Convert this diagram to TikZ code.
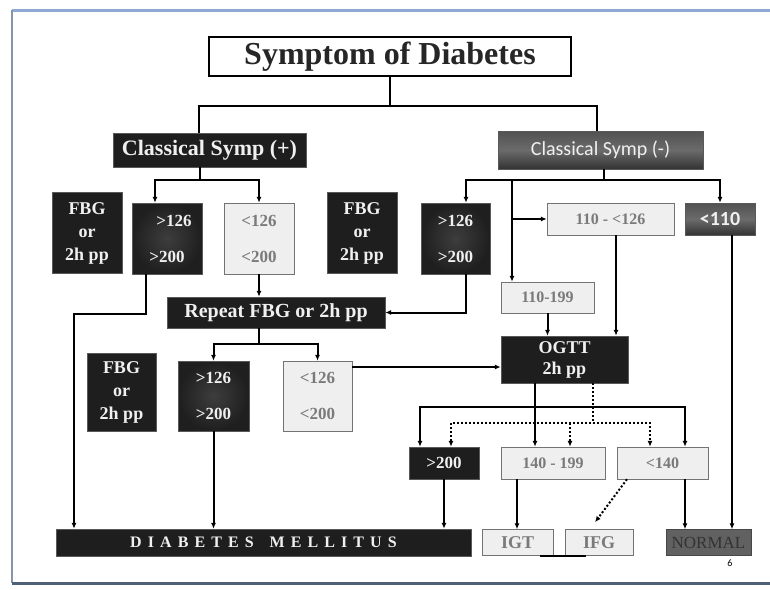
\documentclass[tikz,border=0pt]{standalone}
\usepackage{fontspec}
\setmainfont{Liberation Serif}
\newfontfamily\calibri{Carlito}
\usetikzlibrary{arrows.meta}

\definecolor{framebl}{HTML}{8DA9D4}
\definecolor{frameside}{HTML}{8795A8}
\definecolor{framedk}{HTML}{4D6277}
\definecolor{boxdark}{HTML}{1E1E1E}
\definecolor{boxlight}{HTML}{EFEFEF}
\definecolor{txtgray}{HTML}{7A7A7A}

\newcommand\fsz[2]{\fontsize{#1}{#2}\selectfont}

\tikzset{
	darkbox/.style={draw=black!65, fill=boxdark, text=white!94!black, align=center, inner sep=0pt},
	hibox/.style={darkbox, inner color=black!76, outer color=black!88},
	greybox/.style={darkbox, top color=black!68, bottom color=black!80, middle color=black!58},
	lightbox/.style={draw=black!55, fill=boxlight, text=txtgray, align=center, inner sep=0pt},
	link/.style={line width=2pt, -{Latex[length=6pt,width=5pt]}},
	dotlink/.style={link, dotted, line width=2pt}
}

\begin{document}
\begin{tikzpicture}[x=1pt,y=-1pt]
	\useasboundingbox (0,0) rectangle (770,589);
	% slide frame
	\fill[white] (0,0) rectangle (770,589);
	\draw[framebl, line width=3pt] (12,10) -- (770,10);
	\draw[frameside, line width=1.2pt] (12,10) -- (12,583);
	\draw[framedk, line width=3pt] (12,583) -- (770,583);

	% boxes
	\node[draw=black, line width=1.2pt, fill=white, text=black!85, minimum width=362, minimum height=39, font=\bfseries\fsz{32}{36}] (title) at (390,56.5) {Symptom of Diabetes};
	\node[darkbox, minimum width=193, minimum height=34, font=\bfseries\fsz{22}{24}] (csp) at (209.5,150) {Classical Symp (+)};
	\node[greybox, minimum width=205, minimum height=38, font=\calibri\fsz{20}{22}] (csm) at (600.5,150) {Classical Symp (-)};

	\node[darkbox, minimum width=70, minimum height=81, font=\bfseries\fsz{18}{23}] (fbgA) at (87,233) {FBG\\or\\2h pp};
	\node[hibox, minimum width=70, minimum height=71, font=\bfseries\fsz{17}{36}] (hiA) at (167,238.5) {\hspace*{14pt}>126\\>200};
	\node[lightbox, minimum width=70, minimum height=71, font=\bfseries\fsz{17}{36}] (loA) at (259,238.5) {<126\\<200};
	\node[darkbox, minimum width=70, minimum height=81, font=\bfseries\fsz{18}{23}] (fbgB) at (362,233) {FBG\\or\\2h pp};
	\node[hibox, minimum width=69, minimum height=71, font=\bfseries\fsz{17}{36}] (hiB) at (455.5,238.5) {>126\\>200};
	\node[lightbox, minimum width=127, minimum height=32, font=\bfseries\fsz{16}{18}] (l126) at (610.5,219) {110 - <126};
	\node[greybox, minimum width=70, minimum height=32, font=\calibri\bfseries\fsz{20}{22}] (l110) at (720,219) {<110};

	\node[darkbox, minimum width=218, minimum height=31, font=\bfseries\fsz{20}{22}] (repeat) at (276,312.5) {Repeat FBG or 2h pp};
	\node[lightbox, minimum width=93, minimum height=31, font=\bfseries\fsz{16}{18}] (r199) at (547.5,297.5) {110-199};

	\node[darkbox, minimum width=69, minimum height=78, font=\bfseries\fsz{18}{23}] (fbgC) at (121.5,392) {FBG\\or\\2h pp};
	\node[hibox, minimum width=71, minimum height=70, font=\bfseries\fsz{17}{36}] (hiC) at (213.5,396) {>126\\>200};
	\node[lightbox, minimum width=69, minimum height=70, font=\bfseries\fsz{17}{36}] (loC) at (317.5,396) {<126\\<200};
	\node[darkbox, minimum width=127, minimum height=47, font=\bfseries\fsz{18}{21}] (ogtt) at (564.5,359.5) {OGTT\\2h pp};

	\node[darkbox, minimum width=70, minimum height=32, font=\bfseries\fsz{17}{18}] (h200) at (444,463) {>200};
	\node[lightbox, minimum width=104, minimum height=32, font=\bfseries\fsz{16}{18}] (m140) at (553,463) {140 - 199};
	\node[lightbox, minimum width=91, minimum height=32, font=\bfseries\fsz{16}{18}] (l140) at (662.5,463) {<140};

	\node[darkbox, minimum width=415, minimum height=27, font=\bfseries\fsz{16}{18}] (dm) at (263.5,542.5) {\addfontfeature{LetterSpace=38}DIABETES\quad MELLITUS};
	\node[lightbox, minimum width=71, minimum height=26, font=\bfseries\fsz{18}{20}] (igt) at (517.5,542.5) {IGT};
	\node[lightbox, minimum width=68, minimum height=26, font=\bfseries\fsz{18}{20}] (ifg) at (599,542.5) {IFG};
	\node[darkbox, draw=black!72, fill=black!62, text=black!80, minimum width=85, minimum height=26, font=\fsz{17}{19}] (normal) at (708.5,542.5) {NORMAL};
	\node[font=\calibri\fsz{10}{12}] (pg) at (730,563) {6};

	% top levels
	\draw[line width=2pt] (title.south) -- ++(0,29) coordinate (tj);
	\draw[line width=2pt] (tj) -| ([xshift=-10.5pt]csp.north);
	\draw[line width=2pt] (tj) -| ([xshift=-3.5pt]csm.north);

	% symptoms positive
	\draw[line width=2pt] ([xshift=-9.5pt]csp.south) -- ++(0,13) coordinate (cj);
	\draw[link] (cj) -| ([xshift=-12pt]hiA.north);
	\draw[link] (cj) -| (loA.north);
	\draw[link] ([xshift=-21pt]hiA.south) -- ++(0,40) -| ([xshift=-189.5pt]dm.north);
	\draw[link] (loA.south) -- (loA.south |- repeat.north);
	\draw[link] ([xshift=-17pt]repeat.south) -- ++(0,16) coordinate (rj) -| (hiC.north);
	\draw[link] (rj) -| (loC.north);
	\draw[link] (hiC.south) -- (hiC.south |- dm.north);
	\draw[link] ([yshift=29pt]loC.east) -- ([yshift=29pt]loC.east -| ogtt.west);

	% symptoms negative
	\draw[line width=2pt] ([xshift=3.5pt]csm.south) -- ++(0,11) coordinate (mj);
	\draw[link] (mj) -| ([xshift=10.5pt]hiB.north);
	\draw[link] (mj) -| (l110.north);
	\draw[link] ([xshift=-35.5pt]r199.north |- mj) -- ([xshift=-35.5pt]r199.north);
	\draw[link] ([xshift=-35.5pt]r199.north |- l126.west) -- (l126.west);
	\draw[link] ([xshift=10.5pt]hiB.south) |- (repeat.east);
	\draw[link] ([xshift=5.5pt]l126.south) -- ([xshift=5.5pt]l126.south |- ogtt.north);
	\draw[link] (r199.south) -- (r199.south |- ogtt.north);
	\draw[link] ([xshift=12pt]l110.south) -- ([xshift=12pt]l110.south |- normal.north);

	% OGTT results
	\draw[link] ([xshift=-29.5pt]ogtt.south) -- ([xshift=-29.5pt]ogtt.south |- m140.north);
	\coordinate (oj) at ([yshift=-24pt,xshift=-29.5pt]ogtt.south);
	\draw[link, {Latex[length=6pt,width=5pt]}-{Latex[length=6pt,width=5pt]}] ([xshift=-24pt]h200.north) |- (oj) -| ([xshift=22.5pt]l140.north);
	\draw[line width=2pt, dotted] ([xshift=28.5pt]ogtt.south) -- ++(0,40) coordinate (dj);
	\draw[dotlink, {Latex[length=6pt,width=5pt]}-{Latex[length=6pt,width=5pt]}] ([xshift=7pt]h200.north) |- (dj) -| ([xshift=-12.5pt]l140.north);
	\draw[dotlink] ([xshift=17pt]m140.north |- dj) -- ([xshift=17pt]m140.north);

	% final diagnosis
	\draw[link] (h200.south) -- (h200.south |- dm.north);
	\draw[link] ([xshift=-36pt]m140.south) -- ([xshift=-36pt]m140.south |- igt.north);
	\draw[link] ([xshift=22.5pt]l140.south) -- ([xshift=22.5pt]l140.south |- normal.north);
	\draw[dotlink] ([xshift=-35.5pt]l140.south) -- ([xshift=-4pt,yshift=7pt]ifg.north);
	\draw[line width=2pt] ([xshift=22.5pt]igt.south) -- ([xshift=-13pt]ifg.south);
\end{tikzpicture}
\end{document}
